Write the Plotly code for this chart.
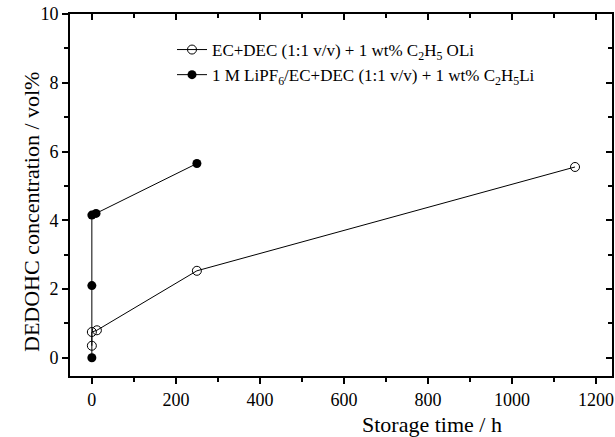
import plotly.graph_objects as go

# Data
t_open = [0, 0, 12, 250, 1150]
c_open = [0.35, 0.75, 0.8, 2.53, 5.55]
t_filled = [0, 0, 0, 10, 250]
c_filled = [0.0, 2.1, 4.15, 4.2, 5.65]

name_open = "EC+DEC (1:1 v/v) + 1 wt% C<sub>2</sub>H<sub>5</sub> OLi"
name_filled = "1 M LiPF<sub>6</sub>/EC+DEC (1:1 v/v) + 1 wt% C<sub>2</sub>H<sub>5</sub>Li"
x_title = "Storage time / h"
y_title = "DEDOHC concentration / vol%"

x_range = [-52, 1238]
y_range = [-0.53, 10]
x_major = [0, 200, 400, 600, 800, 1000, 1200]
x_minor = [100, 300, 500, 700, 900, 1100]
y_major = [0, 2, 4, 6, 8, 10]
y_minor = [1, 3, 5, 7, 9]

font = "Liberation Serif, Times New Roman, serif"

W, H = 615, 437
ML, MR, MT, MB = 70, 3, 14, 61
PW, PH = W - ML - MR, H - MT - MB

fig = go.Figure()
fig.add_trace(go.Scatter(
    x=t_open, y=c_open, mode="lines+markers", name=name_open,
    line=dict(color="black", width=1),
    marker=dict(symbol="circle-open", size=9, color="black", line=dict(width=1)),
))
fig.add_trace(go.Scatter(
    x=t_filled, y=c_filled, mode="lines+markers", name=name_filled,
    line=dict(color="black", width=1),
    marker=dict(symbol="circle", size=9, color="black"),
))
# invisible trace so the mirrored top/right axes get drawn
fig.add_trace(go.Scatter(x=t_open, y=c_open, xaxis="x2", yaxis="y2", mode="markers",
                         marker=dict(opacity=0), showlegend=False, hoverinfo="skip"))

common = dict(showgrid=False, zeroline=False, showline=True, linecolor="black",
              linewidth=2, tickwidth=2, tickcolor="black", ticklen=6, automargin=False)

fig.update_layout(
    width=W, height=H,
    margin=dict(l=ML, r=MR, t=MT, b=MB),
    paper_bgcolor="white", plot_bgcolor="white",
    font=dict(family=font, size=18, color="black"),
    showlegend=True,
    legend=dict(x=(172 - ML) / PW, y=1 - (32 - MT) / PH, xanchor="left", yanchor="top",
                bgcolor="rgba(0,0,0,0)", font=dict(size=17, family=font),
                tracegroupgap=0, itemwidth=30),
    xaxis=dict(
        range=x_range, ticks="outside", tickvals=x_major,
        minor=dict(tickvals=x_minor, ticks="outside", ticklen=4, tickwidth=2, tickcolor="black"),
        tickfont=dict(size=18),
        **common,
    ),
    yaxis=dict(
        range=y_range, ticks="outside", tickvals=y_major,
        minor=dict(tickvals=y_minor, ticks="outside", ticklen=4, tickwidth=2, tickcolor="black"),
        tickfont=dict(size=18),
        **common,
    ),
    xaxis2=dict(
        overlaying="x", side="top", anchor="y2", range=x_range, ticks="inside",
        tickvals=x_major, showticklabels=False,
        minor=dict(tickvals=x_minor, ticks="inside", ticklen=4, tickwidth=2, tickcolor="black"),
        **common,
    ),
    yaxis2=dict(
        overlaying="y", side="right", anchor="x2", range=y_range, ticks="inside",
        tickvals=y_major, showticklabels=False,
        minor=dict(tickvals=y_minor, ticks="inside", ticklen=4, tickwidth=2, tickcolor="black"),
        **common,
    ),
    annotations=[
        dict(text=x_title, xref="paper", yref="paper", x=(432 - ML) / PW,
             y=-(424 - (MT + PH)) / PH, xanchor="center", yanchor="middle",
             showarrow=False, font=dict(size=22, family=font)),
        dict(text=y_title, xref="paper", yref="paper", x=-(ML - 31) / PW,
             y=1 - (212 - MT) / PH, xanchor="center", yanchor="middle", textangle=-90,
             showarrow=False, font=dict(size=22, family=font)),
    ],
)

fig.write_html("out.html", config={"displayModeBar": False},
               post_script="document.body.style.margin='0';")
